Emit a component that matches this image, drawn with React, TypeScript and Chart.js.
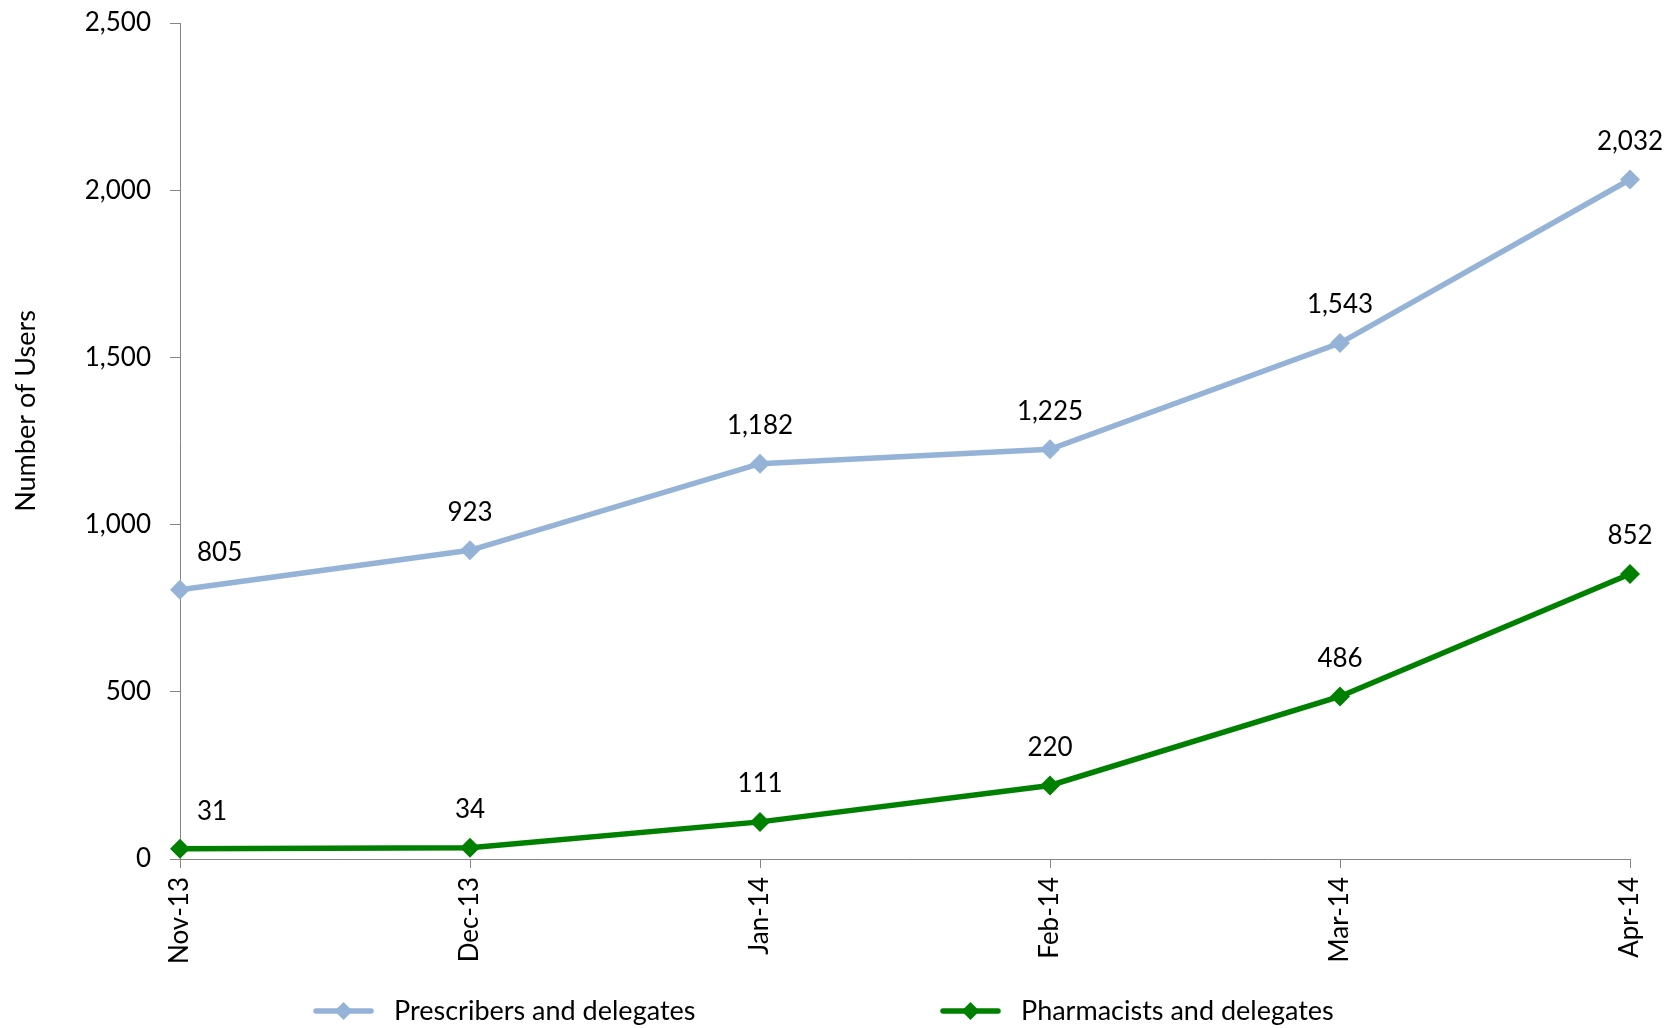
import React, { useEffect, useRef } from 'react';
import { Chart, registerables } from 'chart.js';

Chart.register(...registerables);

const categories = ['Nov-13', 'Dec-13', 'Jan-14', 'Feb-14', 'Mar-14', 'Apr-14'];
const prescribers = [805, 923, 1182, 1225, 1543, 2032];
const pharmacists = [31, 34, 111, 220, 486, 852];
const seriesNames = ['Prescribers and delegates', 'Pharmacists and delegates'];
const yTicks = [0, 500, 1000, 1500, 2000, 2500];
const yTitle = 'Number of Users';

const FONT = 'Lato, "Open Sans", sans-serif';
const TICK_SIZE = 26;
const TEXT_SIZE = 27;
const BLUE = '#95B3D7';
const GREEN = '#008000';
const AXIS = '#868686';

const fmt = (v: number) => v.toLocaleString('en-US');

const dataLabelPlugin = {
  id: 'dataLabels',
  afterDatasetsDraw(chart: any) {
    const ctx = chart.ctx;
    ctx.save();
    ctx.font = `${TICK_SIZE}px ${FONT}`;
    ctx.fillStyle = '#000';
    ctx.textBaseline = 'middle';
    chart.data.datasets.forEach((ds: any, di: number) => {
      const meta = chart.getDatasetMeta(di);
      meta.data.forEach((pt: any, i: number) => {
        const v = ds.data[i] as number;
        if (i === 0) {
          ctx.textAlign = 'left';
          ctx.fillText(fmt(v), pt.x + 17, pt.y - 37);
        } else {
          ctx.textAlign = 'center';
          ctx.fillText(fmt(v), pt.x, pt.y - 38);
        }
      });
    });
    ctx.restore();
  },
};

const titlePlugin = {
  id: 'yTitle',
  afterDraw(chart: any) {
    const ctx = chart.ctx;
    ctx.save();
    ctx.translate(26, 411);
    ctx.rotate(-Math.PI / 2);
    ctx.font = `${TEXT_SIZE}px ${FONT}`;
    ctx.fillStyle = '#000';
    ctx.textAlign = 'center';
    ctx.textBaseline = 'middle';
    ctx.fillText(yTitle, 0, 0);
    ctx.restore();
  },
};

const legendPlugin = {
  id: 'customLegend',
  afterDraw(chart: any) {
    const ctx = chart.ctx;
    const starts = [316, 943];
    const y = 1011;
    chart.data.datasets.forEach((ds: any, di: number) => {
      const x0 = starts[di];
      ctx.save();
      ctx.strokeStyle = ds.borderColor;
      ctx.lineWidth = 5.5;
      ctx.lineCap = 'round';
      ctx.beginPath();
      ctx.moveTo(x0, y);
      ctx.lineTo(x0 + 55, y);
      ctx.stroke();
      const cx = x0 + 27.5;
      const r = 9;
      ctx.fillStyle = ds.pointBackgroundColor;
      ctx.beginPath();
      ctx.moveTo(cx, y - r);
      ctx.lineTo(cx + r, y);
      ctx.lineTo(cx, y + r);
      ctx.lineTo(cx - r, y);
      ctx.closePath();
      ctx.fill();
      ctx.font = `${TEXT_SIZE}px ${FONT}`;
      ctx.fillStyle = '#000';
      ctx.textAlign = 'left';
      ctx.textBaseline = 'middle';
      ctx.fillText(ds.label, x0 + 78, y);
      ctx.restore();
    });
  },
};

export default function App() {
  const ref = useRef<HTMLCanvasElement | null>(null);

  useEffect(() => {
    document.body.style.margin = '0';
    const canvas = ref.current;
    if (!canvas) return;
    const chart = new Chart(canvas, {
      type: 'line',
      data: {
        labels: categories,
        datasets: [
          {
            label: seriesNames[0],
            data: prescribers,
            borderColor: BLUE,
            backgroundColor: BLUE,
            pointBackgroundColor: BLUE,
            pointBorderColor: BLUE,
            borderWidth: 5.5,
            pointStyle: 'rectRot',
            pointRadius: 10,
            pointHoverRadius: 10,
            pointBorderWidth: 0,
            tension: 0,
            clip: false,
          },
          {
            label: seriesNames[1],
            data: pharmacists,
            borderColor: GREEN,
            backgroundColor: GREEN,
            pointBackgroundColor: GREEN,
            pointBorderColor: GREEN,
            borderWidth: 5.5,
            pointStyle: 'rectRot',
            pointRadius: 10,
            pointHoverRadius: 10,
            pointBorderWidth: 0,
            tension: 0,
            clip: false,
          },
        ],
      },
      options: {
        responsive: false,
        animation: false,
        devicePixelRatio: 1,
        layout: { padding: { top: 23, right: 45, bottom: 0, left: 0 } },
        plugins: {
          legend: { display: false },
          tooltip: { enabled: false },
          title: { display: false },
        },
        scales: {
          x: {
            type: 'category',
            offset: false,
            grid: {
              display: true,
              drawOnChartArea: false,
              drawTicks: true,
              tickLength: 9,
              color: AXIS,
              lineWidth: 1,
            },
            border: { display: true, color: AXIS, width: 1 },
            ticks: {
              autoSkip: false,
              minRotation: 90,
              maxRotation: 90,
              padding: 9,
              color: '#000',
              font: { family: FONT, size: TICK_SIZE },
            },
            afterFit(scale: any) {
              scale.height = 169;
              scale.paddingLeft = 0;
              scale.paddingRight = 0;
            },
          },
          y: {
            type: 'linear',
            min: 0,
            max: 2500,
            afterBuildTicks(scale: any) {
              scale.ticks = yTicks.map((v) => ({ value: v }));
            },
            grid: {
              display: true,
              drawOnChartArea: false,
              drawTicks: true,
              tickLength: 10,
              color: AXIS,
              lineWidth: 1,
            },
            border: { display: true, color: AXIS, width: 1 },
            ticks: {
              padding: 19,
              color: '#000',
              font: { family: FONT, size: TICK_SIZE },
              callback: (v: any) => fmt(Number(v)),
            },
            afterFit(scale: any) {
              scale.width = 180;
              scale.paddingTop = 0;
              scale.paddingBottom = 0;
            },
          },
        },
      },
      plugins: [dataLabelPlugin, titlePlugin, legendPlugin],
    });
    return () => chart.destroy();
  }, []);

  return (
    <div style={{ width: 1675, height: 1028, background: '#fff' }}>
      <canvas ref={ref} width={1675} height={1028} style={{ display: 'block' }} />
    </div>
  );
}
